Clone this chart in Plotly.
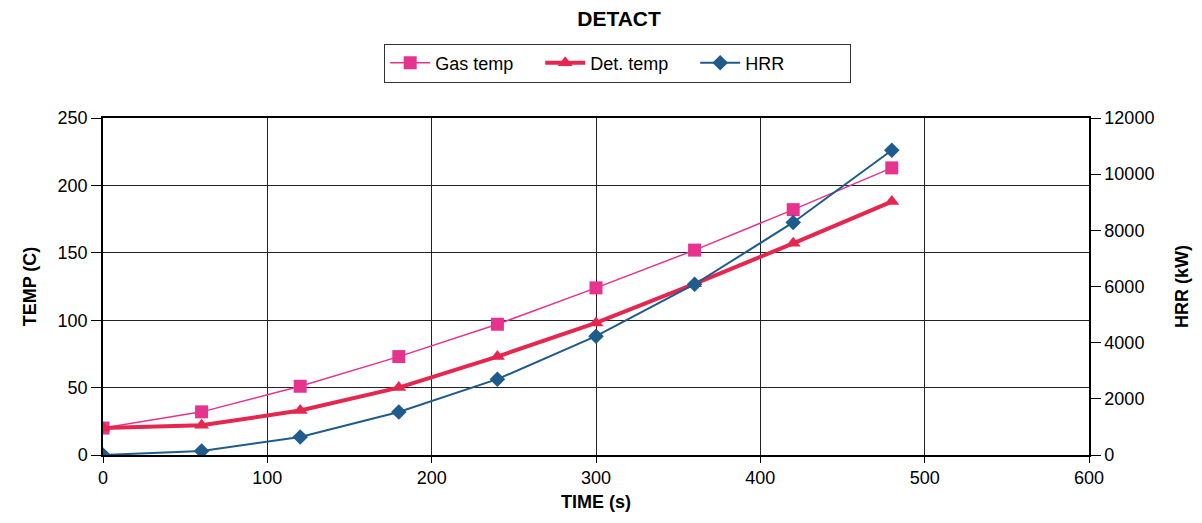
import plotly.graph_objects as go

time_s = [0, 60, 120, 180, 240, 300, 360, 420, 480]
gas_temp = [20, 32, 51, 73, 97, 124, 152, 182, 213]
det_temp = [20, 22, 33, 50, 73, 98, 127, 157, 188]
hrr_kw = [0, 140, 640, 1530, 2700, 4230, 6080, 8280, 10850]

font = "Liberation Sans, Arial, sans-serif"

fig = go.Figure()
fig.add_trace(go.Scatter(x=time_s, y=gas_temp, name="Gas temp", mode="lines+markers",
                         line=dict(color="#E5338E", width=1.5),
                         marker=dict(symbol="square", size=13, color="#E5338E")))
fig.add_trace(go.Scatter(x=time_s, y=det_temp, name="Det. temp", mode="lines+markers",
                         line=dict(color="#E6264F", width=4),
                         marker=dict(symbol="triangle-up", size=13, color="#E6264F")))
fig.add_trace(go.Scatter(x=time_s, y=hrr_kw, name="HRR", mode="lines+markers", yaxis="y2",
                         line=dict(color="#1F5B8C", width=2),
                         marker=dict(symbol="diamond", size=12, color="#1F5B8C")))

fig.update_layout(
    width=1202, height=523,
    margin=dict(l=103, r=113, t=118, b=68),
    paper_bgcolor="white", plot_bgcolor="white",
    font=dict(family=font, size=18, color="black"),
    title=dict(text="<b>DETACT</b>", x=0.515, xanchor="center", y=0.965, yanchor="middle",
               font=dict(size=21)),
    showlegend=True,
    legend=dict(orientation="h", x=0.522, xanchor="center", y=1.163, yanchor="middle",
                bordercolor="#333", borderwidth=1, bgcolor="white",
                font=dict(size=18), itemwidth=40, entrywidth=100, entrywidthmode="pixels"),
    xaxis=dict(range=[0, 600], dtick=100, showgrid=True, gridcolor="#222", gridwidth=1.3,
               showline=True, linecolor="black", linewidth=1.5, mirror=True,
               ticks="outside", ticklen=6, tickcolor="black",
               title=dict(text="<b>TIME (s)</b>", font=dict(size=18), standoff=8),
               zeroline=False),
    yaxis=dict(range=[0, 250], dtick=50, showgrid=True, gridcolor="#222", gridwidth=1.3,
               showline=True, linecolor="black", linewidth=1.5,
               ticks="outside", ticklen=10, tickcolor="black",
               title=dict(text="<b>TEMP (C)</b>", font=dict(size=18), standoff=16),
               zeroline=False),
    yaxis2=dict(range=[0, 12000], dtick=2000, tickformat="d", overlaying="y", side="right",
                showgrid=False, showline=True, linecolor="black", linewidth=1.5,
                ticks="outside", ticklen=10, tickcolor="black",
                title=dict(text="<b>HRR (kW)</b>", font=dict(size=18), standoff=22),
                zeroline=False),
)

fig.write_html("out.html")
